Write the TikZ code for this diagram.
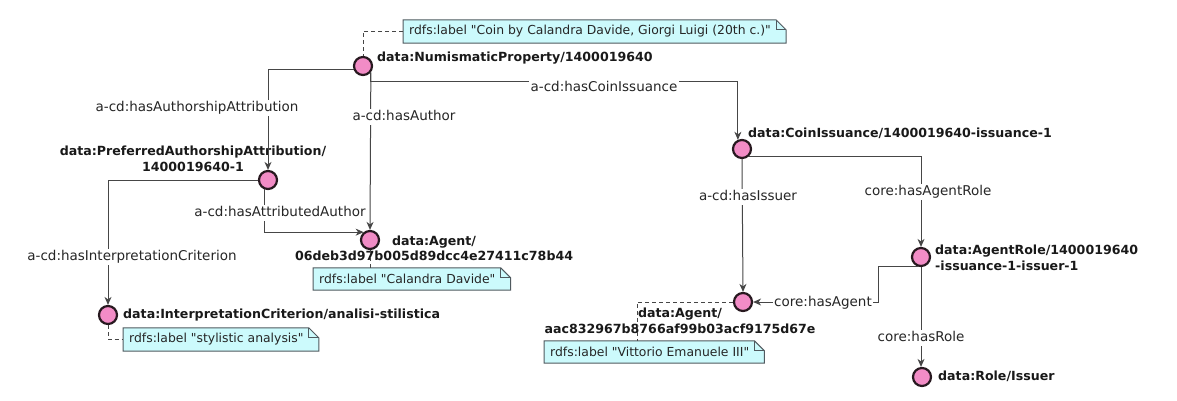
\documentclass[tikz,border=0pt]{standalone}
\usepackage{fontspec}
\setmainfont{DejaVu Sans}[Ligatures=TeXOff]
\usetikzlibrary{arrows.meta,calc}
\definecolor{nodepink}{RGB}{242,140,198}
\definecolor{nodeedge}{RGB}{40,25,32}
\definecolor{notefill}{RGB}{204,250,252}
\definecolor{notedraw}{RGB}{80,90,95}
\definecolor{linecol}{RGB}{70,70,70}
\pgfdeclarelayer{bg}
\pgfsetlayers{bg,main}
\newcommand\notefold[1]{%
  \begin{pgfonlayer}{bg}
    \filldraw[fill=notefill,draw=notedraw,line width=1pt]
      (#1.south west) -- (#1.north west) -- ([xshift=-10pt]#1.north east)
      -- ([yshift=-10pt]#1.north east) -- (#1.south east) -- cycle;
    \draw[draw=notedraw,line width=1pt]
      ([xshift=-10pt]#1.north east) |- ([yshift=-10pt]#1.north east);
  \end{pgfonlayer}}
\tikzset{
  res/.style={circle,minimum size=18pt,inner sep=0pt,fill=nodepink,draw=nodeedge,line width=2.2pt},
  restext/.style={inner sep=0pt,font=\fontsize{12.6}{15}\selectfont\bfseries,text=black!90,text height=9.5pt,text depth=3pt},
  edge/.style={draw=linecol,line width=1pt,-{Stealth[length=8pt,width=7pt,inset=2.5pt]}},
  elabel/.style={fill=white,inner sep=1.5pt,font=\fontsize{13.5}{16}\selectfont,text=black!85,text height=10pt,text depth=3pt},
  notebox/.style={anchor=west,inner xsep=6pt,minimum height=23pt,font=\fontsize{12.4}{15}\selectfont,text=black!85},
  notelink/.style={draw=linecol,line width=0.9pt,dash pattern=on 4pt off 3pt}
}
\begin{document}
\begin{tikzpicture}[x=1pt,y=-1pt]
\useasboundingbox (0,0) rectangle (1177,401);
% resources
\node[res] (np) at (363,66) {};
\node[res] (paa) at (268,180) {};
\node[res] (a1) at (370,240) {};
\node[res] (ic) at (108,315) {};
\node[res] (ci) at (742,149) {};
\node[res] (a2) at (743,302) {};
\node[res] (ar) at (921,257) {};
\node[res] (role) at (922,377) {};
% resource labels
\node[restext,anchor=west] (npl) at (377,58) {data:NumismaticProperty/1400019640};
\node[restext] (paal1) at (193,152) {data:PreferredAuthorshipAttribution/};
\node[restext] (paal2) at (193,168) {1400019640-1};
\node[restext] (a1l1) at (434,242) {data:Agent/};
\node[restext] (a1l2) at (434,257) {06deb3d97b005d89dcc4e27411c78b44};
\node[restext,anchor=west] (icl) at (123,315) {data:InterpretationCriterion/analisi-stilistica};
\node[restext,anchor=west] (cil) at (748,134) {data:CoinIssuance/1400019640-issuance-1};
\node[restext] (a2l1) at (680,314) {data:Agent/};
\node[restext] (a2l2) at (680,330) {aac832967b8766af99b03acf9175d67e};
\node[restext,anchor=west] (arl1) at (935,251) {data:AgentRole/1400019640};
\node[restext,anchor=west] (arl2) at (935,267) {-issuance-1-issuer-1};
\node[restext,anchor=west] (rolel) at (938,377) {data:Role/Issuer};
% notes
\node[notebox] (n1) at (403,31.5) {rdfs:label "Coin by Calandra Davide, Giorgi Luigi (20th c.)"\kern9pt};
\node[notebox,minimum height=22pt] (n2) at (313,279) {rdfs:label "Calandra Davide"\kern9pt};
\node[notebox] (n3) at (123,339.5) {rdfs:label "stylistic analysis"\kern9pt};
\node[notebox,minimum height=22pt] (n4) at (544,352) {rdfs:label "Vittorio Emanuele III"\kern9pt};
\notefold{n1}
\notefold{n2}
\notefold{n3}
\notefold{n4}
% note links
\draw[notelink] (n1.west) -| (np.north);
\draw[notelink] (a1.south) -- (a1.south |- n2.north);
\draw[notelink] (ic.south) |- (n3.west);
\draw[notelink] (a2.west) -| ([xshift=93pt]n4.north west);
% edges
\draw[edge] (np.200) -| (paa.north)
  node[elabel] (e1) at (197,108) {a-cd:hasAuthorshipAttribution};
\draw[edge] (paa.west) -| (ic.north)
  node[elabel] (e4) at (132,257) {a-cd:hasInterpretationCriterion};
\draw[edge] (paa.-110) |- (a1.129)
  node[elabel] (e5) at (280,213) {a-cd:hasAttributedAuthor};
\draw[edge] (np.-39) -- (a1.north)
  node[elabel] (e2) at (404,117) {a-cd:hasAuthor};
\draw[edge] (np.-39) -- ++(0,9.3) -| (ci.114)
  node[elabel] (e3) at (604,88) {a-cd:hasCoinIssuance};
\draw[edge] (ci.south) -- (a2.north)
  node[elabel] (e6) at (748,197) {a-cd:hasIssuer};
\draw[edge] (ci.-51) -| (ar.north)
  node[elabel] (e7) at (928,192) {core:hasAgentRole};
\draw[edge] (ar.-100) -- ++(-41,0) |- (a2.east)
  node[elabel] (e8) at (823,303) {core:hasAgent};
\draw[edge] (ar.south) -- (ar.south |- role.north)
  node[elabel] (e9) at (921,338) {core:hasRole};
\end{tikzpicture}
\end{document}
